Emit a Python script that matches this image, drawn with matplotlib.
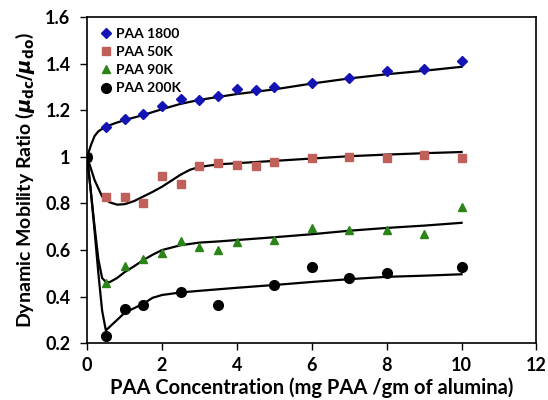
import numpy as np
import matplotlib.pyplot as plt

conc_1800 = [0, 0.5, 1, 1.5, 2, 2.5, 3, 3.5, 4, 4.5, 5, 6, 7, 8, 9, 10]
ratio_1800 = [1.0, 1.127, 1.163, 1.183, 1.218, 1.248, 1.243, 1.263, 1.29, 1.286,
              1.30, 1.317, 1.341, 1.367, 1.379, 1.414]

conc_50k = [0, 0.5, 1, 1.5, 2, 2.5, 3, 3.5, 4, 4.5, 5, 6, 7, 8, 9, 10]
ratio_50k = [1.0, 0.828, 0.828, 0.80, 0.918, 0.883, 0.96, 0.972, 0.964, 0.96,
             0.977, 0.997, 1.0, 0.994, 1.007, 0.997]

conc_90k = [0, 0.5, 1, 1.5, 2, 2.5, 3, 3.5, 4, 5, 6, 7, 8, 9, 10]
ratio_90k = [1.0, 0.457, 0.531, 0.56, 0.586, 0.64, 0.614, 0.60, 0.634, 0.643,
             0.696, 0.688, 0.686, 0.667, 0.783]

conc_200k = [0, 0.5, 1, 1.5, 2.5, 3.5, 5, 6, 7, 8, 10]
ratio_200k = [1.0, 0.231, 0.346, 0.366, 0.421, 0.364, 0.449, 0.528, 0.479, 0.50, 0.526]

# fitted trend lines
fit_x_1800 = [0, 0.1, 0.2, 0.3, 0.5, 0.75, 1, 1.5, 2, 2.5, 3, 4, 5, 6, 7, 8, 9, 10]
fit_y_1800 = [1.0, 1.05, 1.09, 1.11, 1.13, 1.145, 1.158, 1.18, 1.205, 1.228, 1.245,
              1.27, 1.29, 1.315, 1.337, 1.355, 1.37, 1.387]

fit_x_50k = [0, 0.2, 0.4, 0.6, 0.8, 1.0, 1.25, 1.5, 1.75, 2, 2.25, 2.5, 2.75, 3,
             3.5, 4, 5, 6, 7, 8, 9, 10]
fit_y_50k = [1.0, 0.9, 0.83, 0.805, 0.795, 0.797, 0.81, 0.83, 0.85, 0.872, 0.898,
             0.924, 0.945, 0.957, 0.968, 0.973, 0.983, 0.993, 1.003, 1.01, 1.016, 1.021]

fit_x_90k = [0, 0.1, 0.2, 0.3, 0.4, 0.5, 0.6, 0.8, 1, 1.25, 1.5, 1.75, 2, 2.5, 3,
             3.5, 4, 5, 6, 7, 8, 9, 10]
fit_y_90k = [1.0, 0.85, 0.7, 0.56, 0.48, 0.463, 0.462, 0.48, 0.505, 0.53, 0.557,
             0.58, 0.60, 0.621, 0.632, 0.637, 0.643, 0.655, 0.668, 0.683, 0.695,
             0.705, 0.717]

fit_x_200k = [0, 0.1, 0.2, 0.3, 0.4, 0.5, 0.6, 0.8, 1, 1.25, 1.5, 1.75, 2, 2.5, 3,
              4, 5, 6, 7, 8, 9, 10]
fit_y_200k = [1.0, 0.85, 0.68, 0.5, 0.34, 0.255, 0.27, 0.30, 0.33, 0.35, 0.37,
              0.395, 0.407, 0.418, 0.425, 0.438, 0.45, 0.463, 0.475, 0.485, 0.49,
              0.496]

plt.rcParams['font.family'] = ['Lato', 'DejaVu Sans']
plt.rcParams['font.weight'] = 'bold'
plt.rcParams['mathtext.fontset'] = 'dejavusans'

fig = plt.figure(figsize=(5.48, 4.0), dpi=100)
ax = fig.add_axes([0.159, 0.142, 0.820, 0.815])

# trend lines
for fx, fy in [(fit_x_1800, fit_y_1800), (fit_x_50k, fit_y_50k),
               (fit_x_90k, fit_y_90k), (fit_x_200k, fit_y_200k)]:
    ax.plot(fx, fy, color='black', lw=1.6, zorder=2)

ax.plot(conc_1800, ratio_1800, 'D', color='#1414b4', ms=5, ls='none',
        label='PAA 1800', zorder=3)
ax.plot(conc_50k, ratio_50k, 's', color='#c0605a', ms=5.5, ls='none',
        label='PAA 50K', zorder=3)
ax.plot(conc_90k, ratio_90k, '^', color='#2a8418', ms=6, ls='none',
        label='PAA 90K', zorder=3)
ax.plot(conc_200k, ratio_200k, 'o', color='black', ms=7, ls='none',
        label='PAA 200K', zorder=3)

ax.set_xlim(0, 12)
ax.set_ylim(0.2, 1.6)
ax.set_xticks(np.arange(0, 13, 2))
ax.set_yticks([0.2, 0.4, 0.6, 0.8, 1.0, 1.2, 1.4, 1.6])
ax.set_yticklabels(['0.2', '0.4', '0.6', '0.8', '1', '1.2', '1.4', '1.6'])
ax.tick_params(direction='out', length=5, width=1, labelsize=13, pad=7)
ax.tick_params(axis='x', pad=5)
for s in ax.spines.values():
    s.set_linewidth(1.2)

ax.set_xlabel('PAA Concentration (mg PAA /gm of alumina)', fontsize=14.5,
              fontweight='bold')
ax.xaxis.set_label_coords(0.5, -0.106)
ax.set_ylabel(r'Dynamic Mobility Ratio ($\mu_{\rm dc}/\mu_{\rm do}$)',
              fontsize=14, fontweight='bold', labelpad=6)

leg = ax.legend(loc='upper left', frameon=False, handletextpad=0.1,
                handlelength=1.2, labelspacing=0.45, borderaxespad=0.35,
                prop={'weight': 'bold', 'size': 10})

fig.savefig('out.png', dpi=100)
